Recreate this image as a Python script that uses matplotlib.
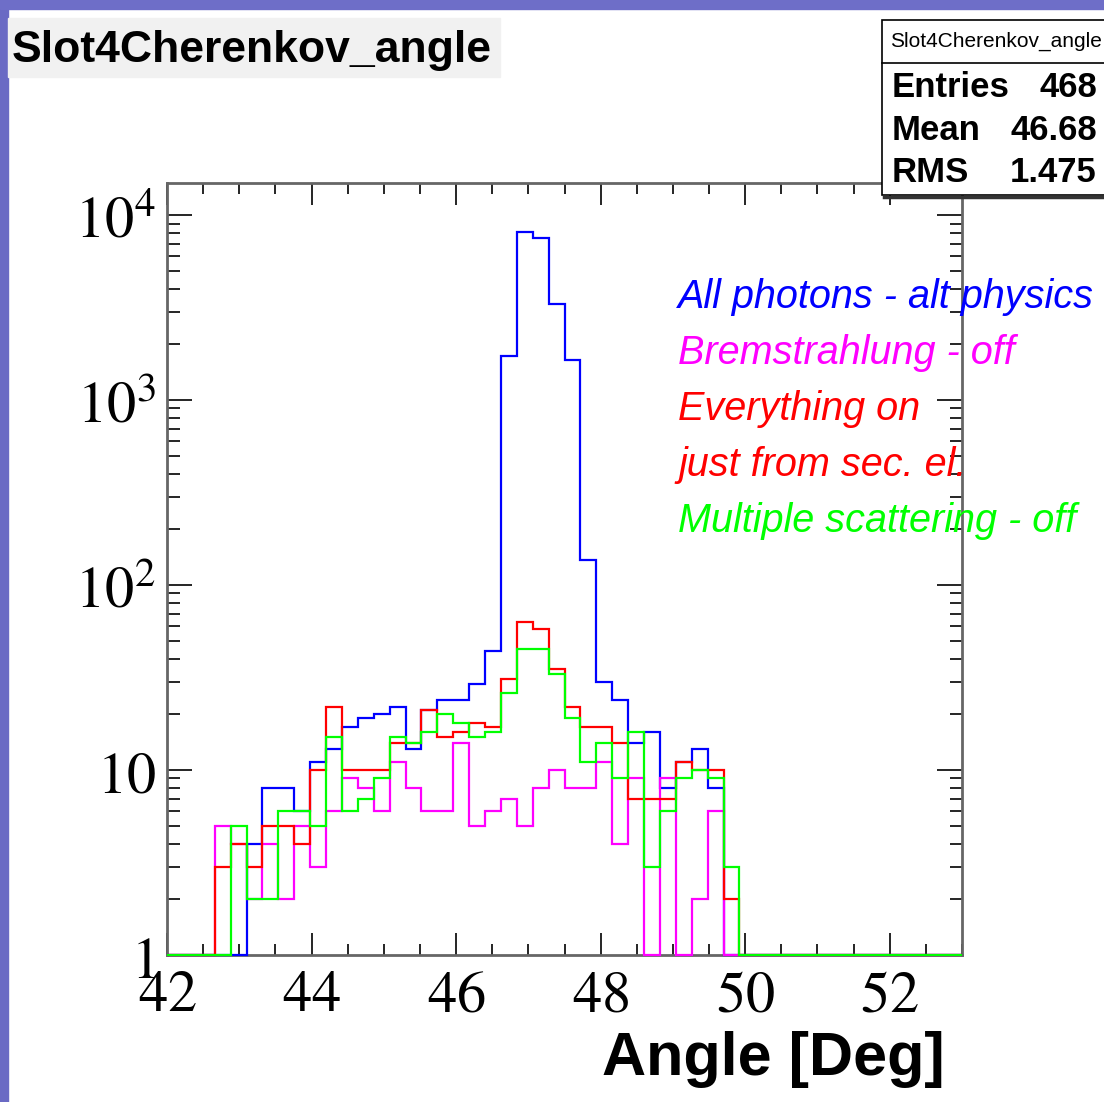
import numpy as np
import matplotlib
matplotlib.use('Agg')
import matplotlib.pyplot as plt
from matplotlib.patches import Rectangle
from matplotlib.lines import Line2D

W, H = 1104, 1102

# binning of the histograms
x_lo, x_hi, n_bins = 42.0, 53.0, 50
y_lo, y_hi = 1.0, 14900.0

# bin contents (one value per bin)
all_photons = [0, 0, 0, 0, 0, 4, 8, 8, 6, 11, 13, 17, 19, 20, 22, 13, 21, 24, 24, 29,
               44, 1740, 8060, 7540, 3290, 1640, 136, 30, 24, 14, 16, 8, 11, 13, 8] + [0] * 15
brems_off = [0, 0, 0, 5, 4, 2, 4, 2, 5, 3, 6, 9, 8, 6, 11, 8, 6, 6, 14, 5,
             6, 7, 5, 8, 10, 8, 8, 11, 4, 9, 0, 9, 0, 2, 6] + [0] * 15
everything_on = [0, 0, 0, 3, 4, 3, 5, 5, 4, 10, 22, 10, 10, 10, 14, 14, 21, 15, 16, 18,
                 17, 31, 63, 58, 35, 22, 17, 17, 14, 7, 7, 7, 11, 10, 10, 2] + [0] * 14
mscat_off = [0, 0, 0, 0, 5, 2, 2, 6, 6, 5, 15, 6, 7, 9, 15, 14, 16, 20, 18, 15,
             16, 26, 45, 45, 33, 19, 11, 14, 9, 16, 3, 6, 9, 10, 9, 3] + [0] * 14

series = [all_photons, brems_off, everything_on, mscat_off]
colors = ['#0000ff', '#ff00ff', '#ff0000', '#00ff00']
legend_lines = ['All photons - alt physics', 'Bremstrahlung - off', 'Everything on',
                'just from sec. el.', 'Multiple scattering - off']
legend_colors = ['#0000ff', '#ff00ff', '#ff0000', '#ff0000', '#00ff00']

x_ticks = [42, 44, 46, 48, 50, 52]
y_ticks = [1, 10, 100, 1000, 10000]
y_labels = ['$1$', '$10$', '$10^2$', '$10^3$', '$10^4$']

stat_rows = [('Entries', '468'), ('Mean', '46.68'), ('RMS', '1.475')]

plt.rcParams['mathtext.fontset'] = 'stix'


def fx(x):
    return x / W


def fy(y):
    return 1 - y / H


fig = plt.figure(figsize=(W / 100, H / 100), dpi=100)
fig.patch.set_facecolor('white')

# slide frame stripes
fig.add_artist(Rectangle((0, 0), fx(8), 1, transform=fig.transFigure, color='#6a6ac4', zorder=0))
fig.add_artist(Rectangle((0, fy(9)), 1, fy(0) - fy(9), transform=fig.transFigure, color='#6e6ec8', zorder=0))

ax = fig.add_axes([fx(167), fy(955), fx(962) - fx(167), fy(183) - fy(955)])
ax.set_yscale('log')
ax.set_xlim(x_lo, x_hi)
ax.set_ylim(y_lo, y_hi)

edges = np.linspace(x_lo, x_hi, n_bins + 1)
for vals, c in zip(series, colors):
    v = np.maximum(np.array(vals, dtype=float), y_lo)
    ax.stairs(v, edges, baseline=None, color=c, lw=1.6, clip_on=False, zorder=3)

for s in ax.spines.values():
    s.set_color('#666666')
    s.set_linewidth(2)

ax.set_xticks(x_ticks)
ax.set_xticks(np.arange(42, 53.01, 0.5), minor=True)
ax.set_xticklabels(['$%d$' % t for t in x_ticks])
ax.set_yticks(y_ticks)
ax.set_yticklabels(y_labels)
ax.tick_params(which='both', direction='in', top=True, right=True, colors='black', width=1.2)
ax.tick_params(axis='x', which='major', length=16, labelsize=42, pad=8)
ax.tick_params(axis='x', which='minor', length=8)
ax.tick_params(axis='y', which='major', length=18, labelsize=42, pad=8)
ax.tick_params(axis='y', which='minor', length=9)
ax.yaxis.set_minor_formatter(matplotlib.ticker.NullFormatter())

# legend as coloured italic text
for i, (txt, c) in enumerate(zip(legend_lines, legend_colors)):
    fig.text(fx(678), fy(308 + 56 * i), txt, color=c, fontsize=28.5,
             fontstyle='italic', family='Liberation Sans', va='baseline', zorder=5)

# axis title
fig.text(fx(945), fy(1075), 'Angle [Deg]', ha='right', va='baseline', fontsize=44,
         fontweight='bold', family='Liberation Sans')

# histogram title box
fig.add_artist(Rectangle((fx(8), fy(77)), fx(500) - fx(8), fy(18) - fy(77),
                         transform=fig.transFigure, color='#f1f1f1', zorder=1))
fig.text(fx(12), fy(62), 'Slot4Cherenkov_angle', fontsize=32, fontweight='bold',
         family='Liberation Sans', va='baseline', zorder=2)

# statistics box
fig.add_artist(Rectangle((fx(882), fy(195)), fx(1120) - fx(882), fy(20) - fy(195),
                         transform=fig.transFigure, facecolor='white', edgecolor='black',
                         lw=1.2, zorder=6))
fig.add_artist(Line2D([fx(882), 1], [fy(62.5), fy(62.5)], transform=fig.transFigure,
                      color='black', lw=1.2, zorder=7))
fig.add_artist(Line2D([fx(884), 1], [fy(196.5), fy(196.5)], transform=fig.transFigure,
                      color='#333333', lw=2.5, zorder=7))
fig.text(fx(890), fy(47), 'Slot4Cherenkov_angle', fontsize=15, family='Liberation Sans',
         va='baseline', zorder=8)
for i, (k, val) in enumerate(stat_rows):
    yb = fy(97 + 42.5 * i)
    fig.text(fx(892), yb, k, fontsize=25, fontweight='bold', family='Liberation Sans',
             va='baseline', zorder=8)
    fig.text(fx(1097), yb, val, fontsize=25, fontweight='bold', family='Liberation Sans',
             va='baseline', ha='right', zorder=8)

fig.savefig('out.png', dpi=100)
